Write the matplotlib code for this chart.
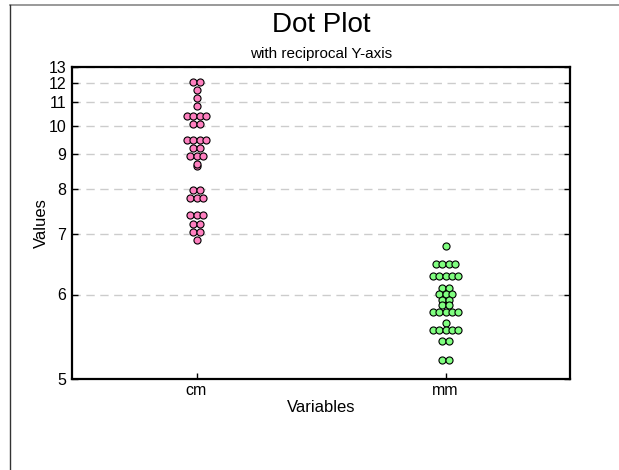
import matplotlib
matplotlib.use('Agg')
import matplotlib.pyplot as plt
from matplotlib.lines import Line2D
from collections import Counter

# ---- data ----
categories = ['cm', 'mm']
cm_values = ([12.1] * 2 + [11.63, 11.22, 10.83] + [10.39] * 4 + [10.06] * 2 +
             [9.46] * 4 + [9.20] * 2 + [8.94] * 3 + [8.62, 8.68] +
             [7.97] * 2 + [7.78] * 3 + [7.39] * 3 + [7.21] * 2 + [7.05] * 2 + [6.89])
mm_values = ([6.78] + [6.47] * 4 + [6.27] * 5 + [6.10] * 2 + [6.01] * 3 +
             [5.92] * 2 + [5.85] * 2 + [5.76] * 5 + [5.62] + [5.53] * 5 +
             [5.40] * 2 + [5.195] * 2)
series = [cm_values, mm_values]
y_ticks = [5, 6, 7, 8, 9, 10, 11, 12, 13]
colors = ['#FF80C0', '#80FF80']

plt.rcParams['font.family'] = ['Liberation Sans', 'DejaVu Sans']

W, H = 619, 470
fig = plt.figure(figsize=(W / 100, H / 100), dpi=100)
fig.patch.set_facecolor('white')

L, R, T, B = 72, 570, 67, 379
ax = fig.add_axes([L / W, 1 - B / H, (R - L) / W, (B - T) / H])

ax.set_yscale('function', functions=(lambda y: -1.0 / y, lambda t: -1.0 / t))
ax.set_ylim(5, 13)
ax.set_xlim(0.5, 2.5)

step_px = 6.3
step = step_px / ((R - L) / 2.0)

for i, (vals, col) in enumerate(zip(series, colors)):
    counts = Counter(vals)
    xs, ys = [], []
    for v, n in counts.items():
        for k in range(n):
            xs.append(i + 1 + (k - (n - 1) / 2.0) * step)
            ys.append(v)
    ax.scatter(xs, ys, s=26, c=col, edgecolors='black', linewidths=0.8, zorder=3)

ax.set_yticks(y_ticks)
ax.set_yticklabels([str(t) for t in y_ticks])
ax.yaxis.set_minor_locator(matplotlib.ticker.NullLocator())
ax.set_xticks([1, 2])
ax.set_xticklabels(categories)

ax.grid(axis='y', color='#CCCCCC', linestyle=(0, (6, 4)), linewidth=1.0, zorder=0)
ax.tick_params(axis='y', direction='in', length=4, width=1, left=True, right=True,
               labelsize=11.5, pad=4)
ax.tick_params(axis='x', direction='in', length=4, width=1, labelsize=11.5, pad=3)
for sp in ax.spines.values():
    sp.set_linewidth(1.6)
    sp.set_color('black')

ax.set_xlabel('Variables', fontsize=12, labelpad=1)
ax.set_ylabel('Values', fontsize=12, labelpad=0)

fig.text((L + R) / 2 / W, 1 - 25 / H, 'Dot Plot', ha='center', va='center', fontsize=20)
fig.text((L + R) / 2 / W, 1 - 54 / H, 'with reciprocal Y-axis', ha='center', va='center', fontsize=11)

# window border
fig.add_artist(Line2D([10 / W, 1], [1 - 5 / H, 1 - 5 / H], transform=fig.transFigure,
                      color='#888888', linewidth=1.2))
fig.add_artist(Line2D([10 / W, 10 / W], [0, 1 - 5 / H], transform=fig.transFigure,
                      color='#333333', linewidth=1.0))

fig.savefig('out.png', dpi=100, facecolor='white')
